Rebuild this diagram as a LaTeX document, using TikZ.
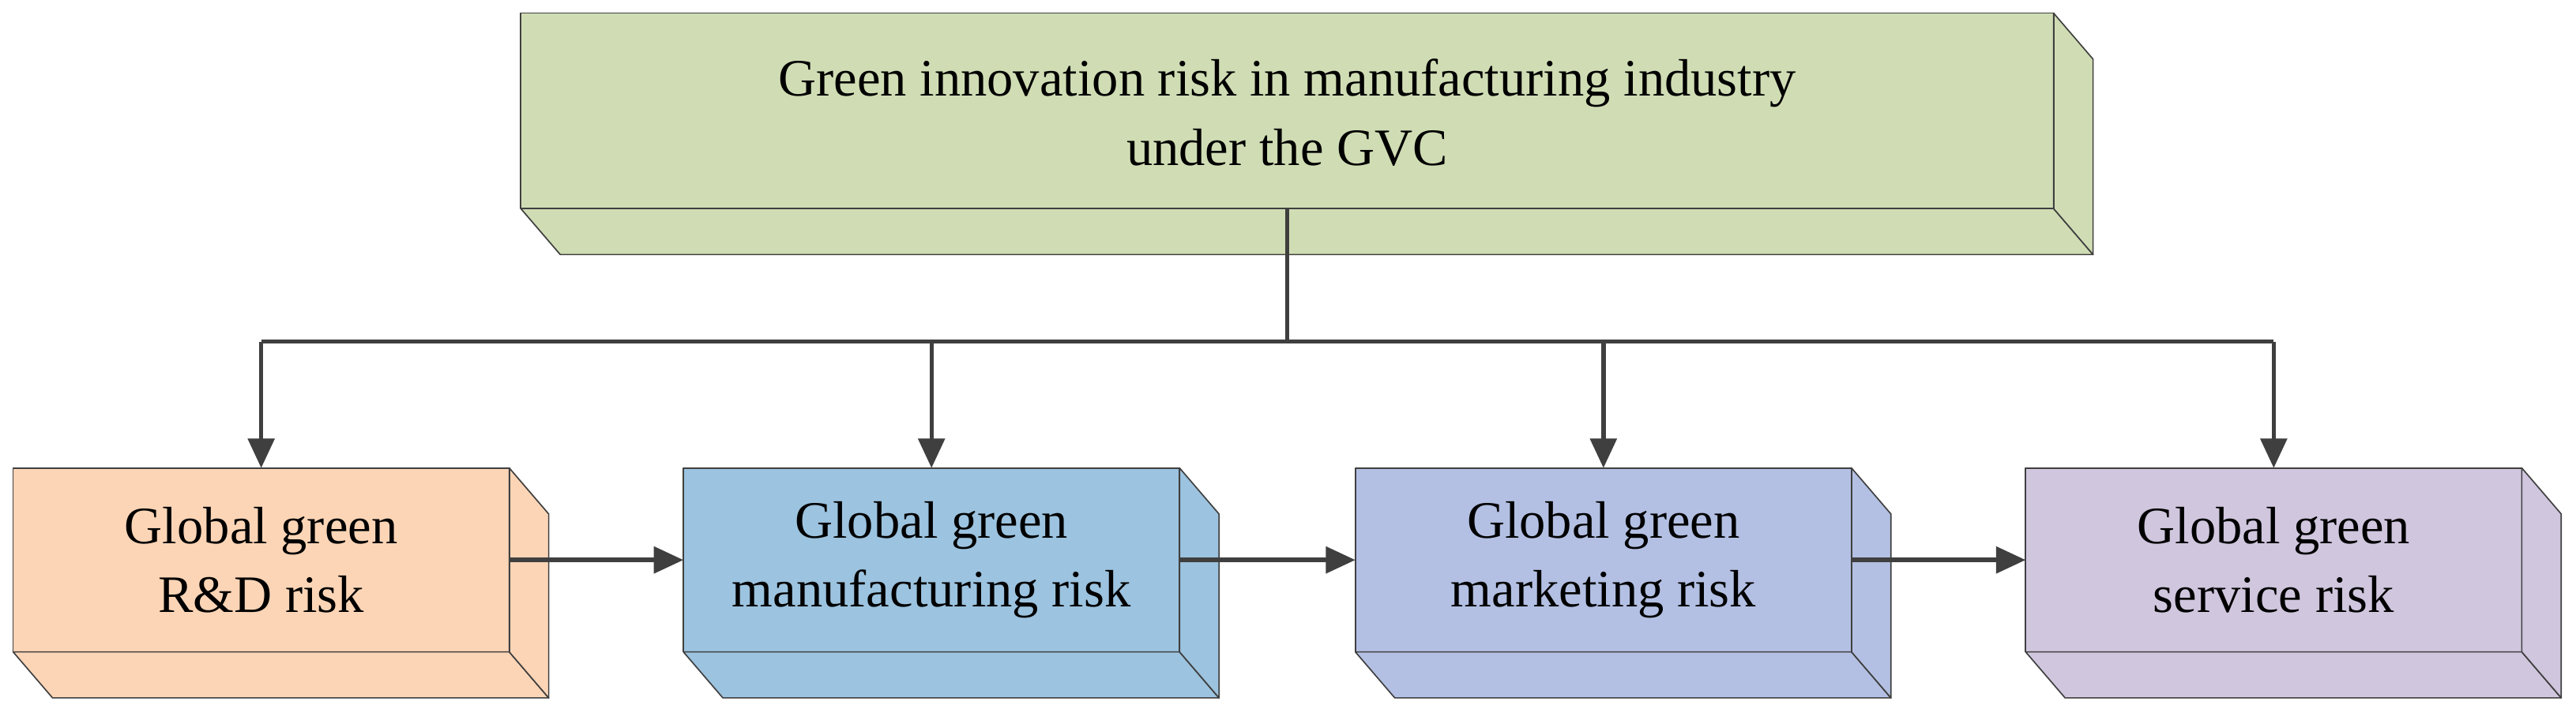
\documentclass[tikz,border=0pt]{standalone}
\usepackage{fontspec}
\setmainfont{Liberation Serif}
\usetikzlibrary{arrows.meta}
\definecolor{cTop}{HTML}{D0DDB4}
\definecolor{cA}{HTML}{FCD5B6}
\definecolor{cB}{HTML}{9CC3DF}
\definecolor{cC}{HTML}{B3C0E3}
\definecolor{cD}{HTML}{D0C6DE}
\definecolor{ln}{HTML}{3F3F3F}
\tikzset{
 face/.style={draw=ln, line width=0.4pt, line join=round},
 conn/.style={draw=ln, line width=1.3pt},
 arr/.style={conn, -{Triangle[length=9pt,width=8pt]}},
 lbl/.style={align=center, font=\fontsize{16}{21}\selectfont, inner sep=0pt}
}
% #1 name, #2 color, #3 x1, #4 y1, #5 x2, #6 y2 (front face), #7 dx, #8 dy
\newcommand\cuboid[8]{%
 \fill[#2] (#3,#4) rectangle (#5,#6);
 \draw[face, fill=#2] (#3,#6) -- (#3+#7,#6+#8) -- (#5+#7,#6+#8) -- (#5,#6) -- cycle;
 \draw[face, fill=#2] (#5,#4) -- (#5+#7,#4+#8) -- (#5+#7,#6+#8) -- (#5,#6) -- cycle;
 \draw[face] (#3,#4) rectangle (#5,#6);
 \coordinate (#1-c) at ({(#3+#5)/2},{(#4+#6)/2});
 \coordinate (#1-n) at ({(#3+#5)/2},#4);
 \coordinate (#1-s) at ({(#3+#5)/2},#6);
 \coordinate (#1-e) at (#5,{(#4+#6)/2});
 \coordinate (#1-w) at (#3,{(#4+#6)/2});
}
\begin{document}
\begin{tikzpicture}[x=0.5pt,y=-0.5pt]
\useasboundingbox (0,0) rectangle (1568,434);
\cuboid{top}{cTop}{317}{8}{1250}{127}{24}{28}
\cuboid{a}{cA}{8}{285}{310}{397}{24}{28}
\cuboid{b}{cB}{416}{285}{718}{397}{24}{28}
\cuboid{c}{cC}{825}{285}{1127}{397}{24}{28}
\cuboid{d}{cD}{1233}{285}{1535}{397}{24}{28}
\node[lbl] (tt) at ([yshift=-0.5pt]top-c) {Green innovation risk in manufacturing industry\\under the GVC};
\node[lbl] (ta) at (a-c) {Global green\\R\&D risk};
\node[lbl] (tb) at (b-c) {Global green\\manufacturing risk};
\node[lbl] (tc) at (c-c) {Global green\\marketing risk};
\node[lbl] (td) at (d-c) {Global green\\service risk};
\coordinate (j) at (top-s |- 0,208);
\draw[conn] (top-s) -- (j);
\draw[conn] (a-n |- j) -- (d-n |- j);
\draw[arr] (a-n |- j) -- (a-n);
\draw[arr] (b-n |- j) -- (b-n);
\draw[arr] (c-n |- j) -- (c-n);
\draw[arr] (d-n |- j) -- (d-n);
\draw[arr] (a-e) -- (b-w);
\draw[arr] (b-e) -- (c-w);
\draw[arr] (c-e) -- (d-w);
\end{tikzpicture}
\end{document}
